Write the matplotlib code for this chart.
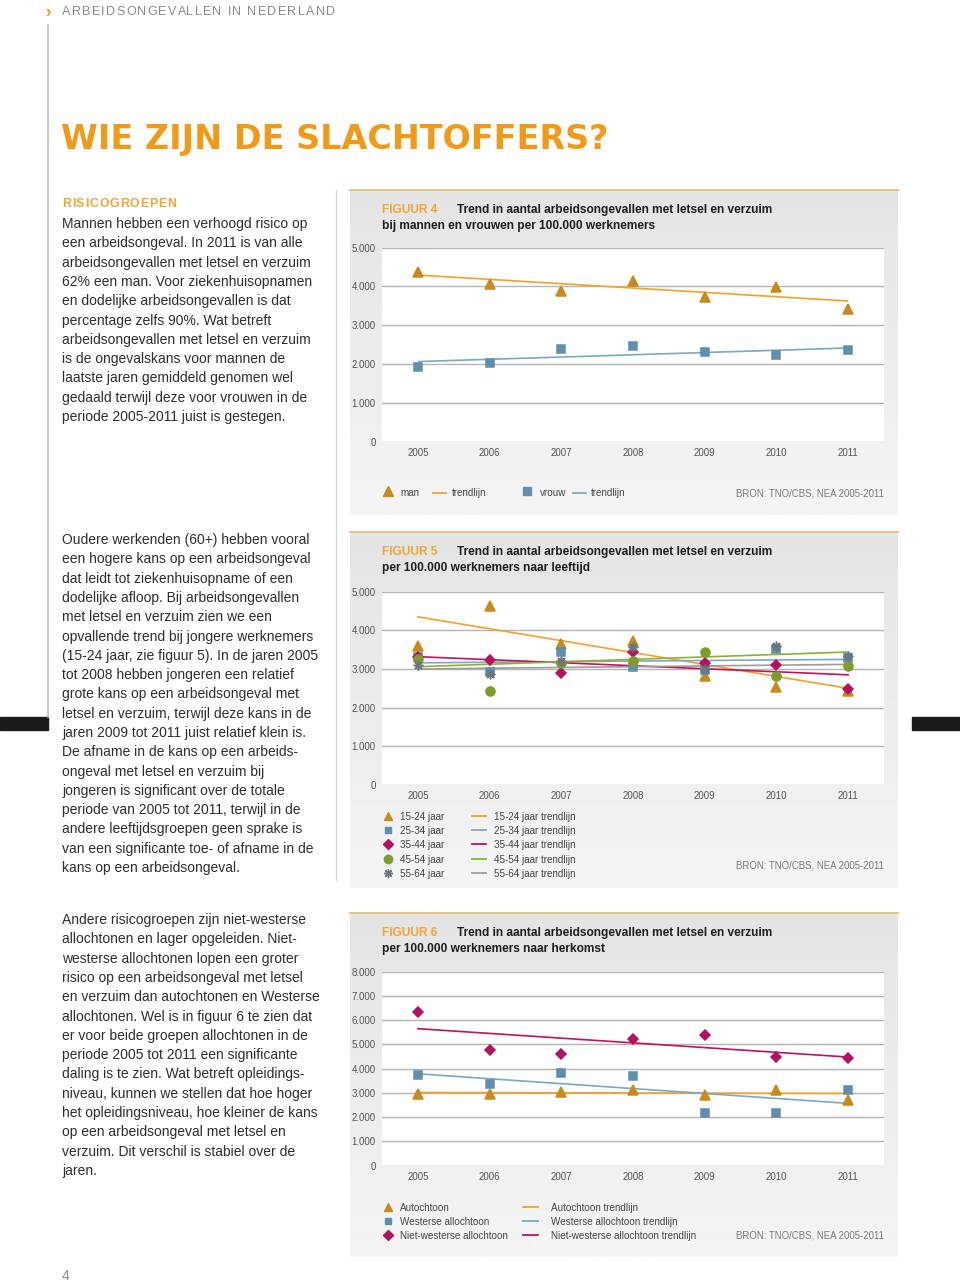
import numpy as np
import matplotlib
matplotlib.use("Agg")
import matplotlib.pyplot as plt
from matplotlib.font_manager import FontProperties
from matplotlib.textpath import TextToPath
from matplotlib.colors import LinearSegmentedColormap
from matplotlib.ticker import FuncFormatter

# ---- data ----
years = [2005, 2006, 2007, 2008, 2009, 2010, 2011]
trend_years = [2005, 2011]

# figuur 4
man = [4360, 4070, 3890, 4130, 3730, 3980, 3410]
vrouw = [1910, 2020, 2380, 2460, 2300, 2220, 2350]
man_trend = [4290, 3620]
vrouw_trend = [2060, 2410]

# figuur 5
age_labels = ["15-24 jaar", "25-34 jaar", "35-44 jaar", "45-54 jaar", "55-64 jaar"]
age_15_24 = [3600, 4620, 3660, 3720, 2830, 2530, 2440]
age_25_34 = [3300, 2930, 3440, 3060, 2970, 3510, 3290]
age_35_44 = [3320, 3240, 2900, 3440, 3150, 3100, 2480]
age_45_54 = [3270, 2430, 3150, 3220, 3430, 2830, 3090]
age_55_64 = [3100, 2870, 3220, 3560, 2990, 3590, 3340]
age_trend_15_24 = [4350, 2500]
age_trend_25_34 = [3160, 3250]
age_trend_35_44 = [3320, 2850]
age_trend_45_54 = [3060, 3440]
age_trend_55_64 = [3000, 3120]

# figuur 6
herkomst_labels = ["Autochtoon", "Westerse allochtoon", "Niet-westerse allochtoon"]
autochtoon = [2940, 2970, 3020, 3130, 2910, 3110, 2710]
westers = [3720, 3380, 3810, 3680, 2160, 2160, 3130]
niet_westers = [6340, 4770, 4620, 5240, 5370, 4490, 4430]
autochtoon_trend = [3020, 2980]
westers_trend = [3790, 2570]
niet_westers_trend = [5650, 4480]

# ---- styling ----
W, H = 960, 1282
FONT = "Liberation Sans"

ORANGE = "#F29A17"
GOLD = "#C98A1B"
TR_ORANGE = "#F2A22A"
BLUE = "#5E8FAE"
TR_BLUE = "#7AA8C6"
MAGENTA = "#B3135E"
TR_MAGENTA = "#C2125E"
GREEN = "#7F9B2C"
TR_GREEN = "#8DB034"
STAR = "#6A7580"
TR_GRAY = "#9C9C9C"
TEXT = "#2E2E2E"
GRID = "#B4B4B4"

plt.rcParams["font.family"] = [FONT, "DejaVu Sans"]

fig = plt.figure(figsize=(W / 100, H / 100), dpi=100)
fig.patch.set_facecolor("white")

page = fig.add_axes([0, 0, 1, 1], zorder=0)
page.axis("off")

ttp = TextToPath()


def spaced(x, y, s, track, size, weight="normal", color=TEXT, family=FONT):
    prop = FontProperties(family=family, size=size, weight=weight)
    ref = ttp.get_text_width_height_descent("H", prop, ismath=False)[0]
    for i, ch in enumerate(s):
        w = ttp.get_text_width_height_descent(s[:i] + "H", prop, ismath=False)[0] - ref
        page.text(x + w * 100 / 72 + i * track, y, ch, fontsize=size, fontweight=weight,
                  color=color, family=family, ha="left", va="center")


# header
page.text(45, 12, "\u203a", fontsize=12, fontweight="bold", color=ORANGE, ha="left", va="center")
spaced(62, 12, "ARBEIDSONGEVALLEN IN NEDERLAND", 1.3, 9, color="#8A8A8A")
page.plot([48, 48], [25, 717], color="#BDBDBD", lw=1.2)
page.plot([336, 336], [190, 880], color="#D6D6D6", lw=0.9)
page.add_patch(plt.Rectangle((0, 717), 48, 13, color="#1A1A1A"))
page.add_patch(plt.Rectangle((912, 717), 48, 13, color="#1A1A1A"))

page.text(61, 139, "WIE ZIJN DE SLACHTOFFERS?", fontsize=24, fontweight="bold",
          family="DejaVu Sans", color=ORANGE, ha="left", va="center")
spaced(62, 204, "RISICOGROEPEN", 0.9, 8.8, weight="bold", color="#F0A63A")

para1 = [
    "Mannen hebben een verhoogd risico op",
    "een arbeidsongeval. In 2011 is van alle",
    "arbeidsongevallen met letsel en verzuim",
    "62% een man. Voor ziekenhuisopnamen",
    "en dodelijke arbeidsongevallen is dat",
    "percentage zelfs 90%. Wat betreft",
    "arbeidsongevallen met letsel en verzuim",
    "is de ongevalskans voor mannen de",
    "laatste jaren gemiddeld genomen wel",
    "gedaald terwijl deze voor vrouwen in de",
    "periode 2005-2011 juist is gestegen.",
]
para2 = [
    "Oudere werkenden (60+) hebben vooral",
    "een hogere kans op een arbeidsongeval",
    "dat leidt tot ziekenhuisopname of een",
    "dodelijke afloop. Bij arbeidsongevallen",
    "met letsel en verzuim zien we een",
    "opvallende trend bij jongere werknemers",
    "(15-24 jaar, zie figuur 5). In de jaren 2005",
    "tot 2008 hebben jongeren een relatief",
    "grote kans op een arbeidsongeval met",
    "letsel en verzuim, terwijl deze kans in de",
    "jaren 2009 tot 2011 juist relatief klein is.",
    "De afname in de kans op een arbeids-",
    "ongeval met letsel en verzuim bij",
    "jongeren is significant over de totale",
    "periode van 2005 tot 2011, terwijl in de",
    "andere leeftijdsgroepen geen sprake is",
    "van een significante toe- of afname in de",
    "kans op een arbeidsongeval.",
]
para3 = [
    "Andere risicogroepen zijn niet-westerse",
    "allochtonen en lager opgeleiden. Niet-",
    "westerse allochtonen lopen een groter",
    "risico op een arbeidsongeval met letsel",
    "en verzuim dan autochtonen en Westerse",
    "allochtonen. Wel is in figuur 6 te zien dat",
    "er voor beide groepen allochtonen in de",
    "periode 2005 tot 2011 een significante",
    "daling is te zien. Wat betreft opleidings-",
    "niveau, kunnen we stellen dat hoe hoger",
    "het opleidingsniveau, hoe kleiner de kans",
    "op een arbeidsongeval met letsel en",
    "verzuim. Dit verschil is stabiel over de",
    "jaren.",
]
for top, lines in [(224, para1), (540, para2), (920, para3)]:
    for i, line in enumerate(lines):
        page.text(62, top + i * 19.3, line, fontsize=10, color=TEXT, ha="left", va="center")

page.text(62, 1276, "4", fontsize=10, color="#8A8A8A", ha="left", va="center")

# ---- panels ----
grad_cmap = LinearSegmentedColormap.from_list("panel", ["#E4E4E4", "#F5F5F5"])
grad = np.linspace(0, 1, 256).reshape(-1, 1)


def panel(top, bottom, num, line1, line2):
    page.imshow(grad, cmap=grad_cmap, extent=[350, 898, bottom, top], aspect="auto", zorder=0)
    page.plot([350, 898], [top, top], color="#E3C27E", lw=1.3, zorder=1)
    page.text(382, top + 20, "FIGUUR %d" % num, fontsize=8.6, fontweight="bold",
              color="#F2A531", ha="left", va="center")
    page.text(457, top + 20, line1, fontsize=8.6, fontweight="bold", color="#1E1E1E",
              ha="left", va="center")
    page.text(382, top + 36, line2, fontsize=8.6, fontweight="bold", color="#1E1E1E",
              ha="left", va="center")
    page.text(884, bottom - 22, "BRON: TNO/CBS, NEA 2005-2011", fontsize=6.9,
              color="#7A7A7A", ha="right", va="center")


def chart(top, bottom, ymax, step):
    ax = fig.add_axes([382 / W, 1 - bottom / H, (884 - 382) / W, (bottom - top) / H], zorder=2)
    ax.set_facecolor("white")
    ax.set_xlim(2004.5, 2011.5)
    ax.set_ylim(0, ymax)
    ax.set_yticks(np.arange(0, ymax + 1, step))
    ax.set_xticks(years)
    ax.yaxis.set_major_formatter(FuncFormatter(lambda v, p: f"{int(v):,}".replace(",", ".")))
    ax.grid(axis="y", color=GRID, lw=1.0)
    ax.set_axisbelow(True)
    for s in ax.spines.values():
        s.set_visible(False)
    ax.tick_params(length=0, labelsize=7, labelcolor="#555555")
    ax.tick_params(axis="y", pad=4.5)
    ax.tick_params(axis="x", pad=4.5)
    return ax


def series(ax, vals, trend, mk, mc, tc, ms):
    ax.plot(trend_years, trend, color=tc, lw=1.2, zorder=2, solid_capstyle="butt")
    ax.plot(years, vals, ls="none", marker=mk, color=mc, ms=ms, mew=1.1, zorder=3, clip_on=False)


def leg_marker(x, y, mk, mc, ms):
    page.plot([x], [y], ls="none", marker=mk, color=mc, ms=ms, mew=1.0, zorder=3)


def leg_line(x0, x1, y, c):
    page.plot([x0, x1], [y, y], color=c, lw=1.3, zorder=3)


def leg_text(x, y, s):
    page.text(x, y, s, fontsize=7.1, color="#444444", ha="left", va="center")


STAR_MK = (8, 2, 0)

# figuur 4
panel(190, 515, 4, "Trend in aantal arbeidsongevallen met letsel en verzuim",
      "bij mannen en vrouwen per 100.000 werknemers")
ax4 = chart(247.5, 441.5, 5000, 1000)
series(ax4, man, man_trend, "^", GOLD, TR_ORANGE, 7)
series(ax4, vrouw, vrouw_trend, "s", BLUE, TR_BLUE, 6)
leg_marker(388, 491, "^", GOLD, 7)
leg_text(400, 493, "man")
leg_line(433, 446, 493, TR_ORANGE)
leg_text(452, 493, "trendlijn")
leg_marker(527, 491, "s", BLUE, 6)
leg_text(540, 493, "vrouw")
leg_line(573, 586, 493, TR_BLUE)
leg_text(591, 493, "trendlijn")

# figuur 5
panel(532, 888, 5, "Trend in aantal arbeidsongevallen met letsel en verzuim",
      "per 100.000 werknemers naar leeftijd")
ax5 = chart(591.7, 785, 5000, 1000)
age_series = [
    (age_15_24, age_trend_15_24, "^", GOLD, TR_ORANGE, 6.5),
    (age_25_34, age_trend_25_34, "s", BLUE, TR_BLUE, 5.5),
    (age_35_44, age_trend_35_44, "D", MAGENTA, TR_MAGENTA, 5.5),
    (age_45_54, age_trend_45_54, "o", GREEN, TR_GREEN, 6.5),
    (age_55_64, age_trend_55_64, STAR_MK, STAR, TR_GRAY, 7),
]
for vals, trend, mk, mc, tc, ms in age_series:
    ax5.plot(trend_years, trend, color=tc, lw=1.2, zorder=2)
for vals, trend, mk, mc, tc, ms in age_series:
    ax5.plot(years, vals, ls="none", marker=mk, color=mc, ms=ms, mew=1.1, zorder=3)
for i, (lab, (vals, trend, mk, mc, tc, ms)) in enumerate(zip(age_labels, age_series)):
    y = 817 + i * 14.2
    leg_marker(388, y - 1, mk, mc, ms - 0.5)
    leg_text(400, y, lab)
    leg_line(472, 486, y - 1, tc)
    leg_text(494, y, lab + " trendlijn")

# figuur 6
panel(913, 1257, 6, "Trend in aantal arbeidsongevallen met letsel en verzuim",
      "per 100.000 werknemers naar herkomst")
ax6 = chart(971.7, 1165.7, 8000, 1000)
herkomst_series = [
    (autochtoon, autochtoon_trend, "^", GOLD, TR_ORANGE, 6.5),
    (westers, westers_trend, "s", BLUE, TR_BLUE, 5.5),
    (niet_westers, niet_westers_trend, "D", MAGENTA, TR_MAGENTA, 5.5),
]
for vals, trend, mk, mc, tc, ms in herkomst_series:
    ax6.plot(trend_years, trend, color=tc, lw=1.2, zorder=2)
for vals, trend, mk, mc, tc, ms in herkomst_series:
    ax6.plot(years, vals, ls="none", marker=mk, color=mc, ms=ms, mew=1.1, zorder=3)
for i, (lab, (vals, trend, mk, mc, tc, ms)) in enumerate(zip(herkomst_labels, herkomst_series)):
    y = 1208 + i * 14
    leg_marker(388, y - 1, mk, mc, ms - 0.5)
    leg_text(400, y, lab)
    leg_line(523, 538, y - 1, tc)
    leg_text(551, y, lab + " trendlijn")

page.set_xlim(0, W)
page.set_ylim(H, 0)

fig.savefig("out.png", dpi=100)
